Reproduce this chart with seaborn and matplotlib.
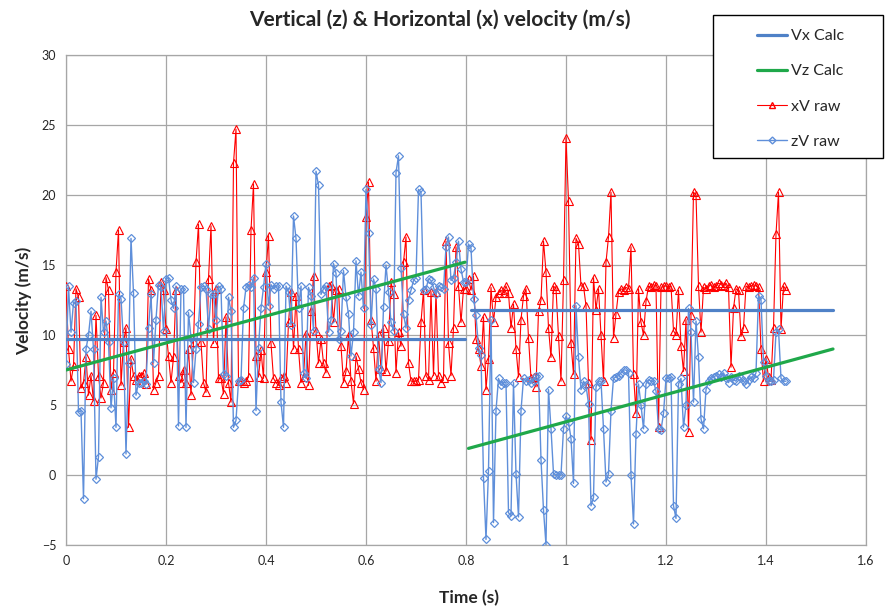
import numpy as np
import pandas as pd
import matplotlib
matplotlib.use("Agg")
import matplotlib.pyplot as plt
import seaborn as sns
from matplotlib.lines import Line2D
from matplotlib.patches import Rectangle

# raw samples, 5 ms apart, starting at t = 0
DT = 0.005

zv_raw = [
    7.9, 13.5, 10.2, 12.3, 12.4, 4.5, 4.6, -1.7, 9.0, 10.0,
    11.7, 9.0, -0.3, 1.3, 12.7, 10.2, 11.0, 9.5, 4.8, 6.9,
    3.4, 12.9, 12.6, 9.5, 1.5, 8.0, 16.9, 13.0, 5.7, 6.6,
    6.6, 6.7, 6.5, 10.5, 12.9, 8.0, 11.1, 13.6, 13.4, 10.3,
    14.0, 14.1, 12.5, 11.9, 13.5, 3.5, 13.3, 13.3, 3.4, 11.6,
    9.8, 6.6, 9.0, 10.8, 13.4, 13.5, 13.3, 10.4, 12.9, 12.9,
    11.1, 13.5, 13.3, 7.2, 7.1, 12.7, 11.7, 3.4, 3.9, 6.7,
    6.8, 11.9, 13.4, 13.6, 13.4, 14.1, 4.6, 9.1, 11.9, 13.4,
    15.1, 12.1, 13.6, 13.3, 13.5, 13.5, 5.2, 3.4, 13.5, 13.1,
    10.7, 18.5, 16.9, 11.9, 13.5, 7.3, 6.9, 13.4, 12.8, 10.3,
    21.7, 20.7, 12.9, 13.3, 13.5, 10.2, 11.1, 15.1, 14.4, 9.7,
    10.3, 14.6, 12.7, 11.5, 8.5, 10.2, 15.3, 12.8, 14.5, 11.9,
    20.4, 17.3, 10.7, 14.0, 13.3, 7.6, 6.6, 12.0, 15.0, 13.1,
    10.9, 10.3, 21.6, 22.8, 14.8, 11.5, 10.5, 12.5, 13.2, 13.9,
    14.1, 20.4, 20.2, 13.2, 13.3, 14.0, 13.9, 13.4, 12.9, 13.5,
    13.4, 13.3, 16.3, 17.0, 13.9, 14.1, 15.2, 16.7, 14.7, 13.8,
    13.8, 16.5, 16.2, 12.6, 11.4, 9.1, 8.6, -0.2, -4.6, 0.3,
    11.1, -3.4, 4.6, 6.9, 6.4, 6.6, 6.6, -2.7, -2.9, 6.6,
    0.1, -3.0, 4.6, 6.9, 6.7, 6.8, 6.6, 6.7, 7.1, 7.1,
    1.1, -2.5, -5.0, 6.1, 3.3, 0.1, 0.0, 0.0, 0.0, 3.3,
    4.2, 3.8, 2.6, -0.6, 12.1, 8.4, 6.1, 6.7, 6.4, 5.1,
    -2.2, -1.6, 6.3, 6.7, 6.7, 3.3, -0.5, 0.1, 4.6, 6.9,
    7.0, 7.1, 7.3, 7.5, 7.5, 7.3, 0.0, -3.5, 2.9, 6.5,
    5.0, 3.3, 6.5, 6.8, 6.7, 6.7, 6.0, 3.3, 3.2, 4.4,
    6.9, 6.9, 7.0, -2.2, -3.1, 6.5, 6.9, 3.4, 5.0, 11.9,
    10.2, 5.2, 11.0, 8.4, 4.0, 3.3, 6.1, 6.7, 6.9, 7.0,
    7.1, 7.2, 7.0, 7.3, 6.9, 6.6, 7.0, 6.8, 6.7, 7.1,
    6.9, 6.7, 6.5, 6.8, 7.0, 6.9, 7.3, 12.8, 12.5, 8.1,
    7.1, 6.7, 6.7, 6.8, 10.2, 10.4, 6.9, 6.7, 6.7,
]

xv_raw = [
    13.5, 9.0, 6.7, 7.8, 13.3, 12.7, 6.2, 6.6, 8.4, 5.7,
    7.1, 5.3, 11.4, 7.1, 5.5, 6.6, 14.1, 13.2, 6.1, 7.3,
    14.5, 17.5, 6.4, 9.5, 10.5, 3.4, 8.3, 7.1, 6.8, 7.1,
    7.1, 7.3, 6.5, 14.0, 13.2, 6.1, 6.6, 7.1, 13.8, 13.2,
    10.4, 8.5, 6.6, 8.4, 13.2, 7.1, 6.6, 7.5, 6.6, 9.0,
    5.7, 9.5, 15.2, 17.9, 9.5, 6.6, 5.9, 14.0, 17.8, 9.4,
    13.3, 6.9, 6.9, 5.8, 11.3, 6.6, 5.2, 22.3, 24.7, 6.7,
    6.7, 6.6, 6.7, 7.0, 17.5, 20.8, 8.5, 7.0, 8.9, 6.9,
    14.5, 17.1, 9.4, 6.9, 6.6, 6.4, 6.9, 7.1, 6.6, 10.9,
    13.1, 9.0, 12.8, 9.0, 6.6, 7.0, 10.1, 6.4, 11.7, 14.2,
    10.3, 8.0, 9.7, 8.0, 7.3, 13.5, 13.6, 10.9, 13.2, 13.3,
    9.2, 6.6, 7.4, 10.0, 6.7, 5.1, 8.5, 7.6, 6.6, 6.1,
    18.4, 20.9, 11.1, 9.1, 6.7, 10.0, 7.6, 10.5, 7.4, 9.6,
    13.8, 12.9, 7.3, 10.2, 9.2, 15.2, 17.0, 8.0, 6.7, 6.7,
    6.7, 6.8, 10.9, 13.2, 7.1, 6.8, 13.1, 7.1, 13.1, 7.1,
    6.6, 6.9, 16.7, 9.4, 7.1, 10.5, 16.3, 13.5, 10.9, 13.3,
    13.3, 14.0, 13.2, 14.2, 9.7, 9.0, 7.8, 11.3, 6.1, 8.3,
    13.4, 10.9, 12.7, 13.0, 13.2, 13.0, 13.5, 13.0, 10.5, 12.2,
    9.0, 7.0, 11.1, 12.8, 13.3, 9.8, 6.9, 7.0, 6.3, 11.7,
    12.5, 16.7, 14.5, 10.5, 8.4, 13.5, 13.3, 9.9, 6.7, 13.9,
    24.1, 19.6, 9.4, 7.2, 16.9, 16.5, 13.5, 13.5, 12.1, 6.6,
    2.5, 14.1, 11.8, 13.3, 10.0, 6.7, 15.2, 17.0, 20.2, 9.8,
    11.5, 13.1, 13.3, 13.2, 13.4, 13.3, 16.3, 7.2, 4.4, 13.3,
    10.9, 10.0, 12.4, 13.5, 13.4, 13.6, 13.5, 3.4, 13.4, 13.5,
    13.5, 13.4, 13.5, 10.3, 10.0, 13.2, 9.2, 7.4, 11.1, 3.1,
    11.4, 20.2, 20.0, 13.5, 10.2, 13.4, 13.3, 13.5, 13.6, 13.4,
    13.5, 13.7, 13.6, 13.5, 13.7, 13.4, 7.7, 11.9, 13.3, 13.2,
    9.9, 10.5, 13.5, 13.4, 13.5, 13.6, 13.5, 13.4, 9.0, 6.7,
    8.3, 7.0, 6.8, 10.5, 17.2, 20.2, 10.4, 13.5, 13.2,
]

# fitted lines, two segments each (before / after t = 0.8 s)
vx_calc_t = [0.0, 0.798, 0.81, 1.534]
vx_calc_v = [9.7, 9.7, 11.8, 11.8]
vz_calc_t = [0.0, 0.798, 0.805, 1.534]
vz_calc_v = [7.5, 15.2, 1.9, 9.0]
calc_seg = [0, 0, 1, 1]

x_ticks = [0, 0.2, 0.4, 0.6, 0.8, 1.0, 1.2, 1.4, 1.6]
x_tick_labels = ["0", "0.2", "0.4", "0.6", "0.8", "1", "1.2", "1.4", "1.6"]
y_ticks = [-5, 0, 5, 10, 15, 20, 25, 30]

VX_COLOR = "#4f81c7"
VZ_COLOR = "#1fa84a"
XV_COLOR = "#ff0000"
ZV_COLOR = "#5f8fda"
GRID = "#a6a6a6"

sns.set_style("white")
plt.rcParams["font.family"] = ["Lato", "DejaVu Sans"]

xv_df = pd.DataFrame({"t": np.arange(len(xv_raw)) * DT, "v": xv_raw})
zv_df = pd.DataFrame({"t": np.arange(len(zv_raw)) * DT, "v": zv_raw})
vx_df = pd.DataFrame({"t": vx_calc_t, "v": vx_calc_v, "seg": calc_seg})
vz_df = pd.DataFrame({"t": vz_calc_t, "v": vz_calc_v, "seg": calc_seg})

W, H = 886, 610
fig = plt.figure(figsize=(W / 100, H / 100), dpi=100)
ax = fig.add_axes([66 / W, 65 / H, 800 / W, 490 / H])

sns.lineplot(data=xv_df, x="t", y="v", ax=ax, estimator=None, sort=False,
             color=XV_COLOR, linewidth=0.8, marker="^", markersize=6,
             markerfacecolor="none", markeredgecolor=XV_COLOR,
             markeredgewidth=0.8, zorder=3)
sns.lineplot(data=zv_df, x="t", y="v", ax=ax, estimator=None, sort=False,
             color=ZV_COLOR, linewidth=1.0, marker="D", markersize=4,
             markerfacecolor="none", markeredgecolor=ZV_COLOR,
             markeredgewidth=0.9, zorder=4)
sns.lineplot(data=vx_df, x="t", y="v", units="seg", ax=ax, estimator=None,
             color=VX_COLOR, linewidth=2.3, zorder=5)
sns.lineplot(data=vz_df, x="t", y="v", units="seg", ax=ax, estimator=None,
             color=VZ_COLOR, linewidth=2.3, zorder=5)

ax.set_xlim(0, 1.6)
ax.set_ylim(-5, 30)
ax.set_xticks(x_ticks)
ax.set_xticklabels(x_tick_labels)
ax.set_yticks(y_ticks)
ax.set_xlabel("")
ax.set_ylabel("")
ax.grid(True, color=GRID, linewidth=0.9)
ax.set_axisbelow(True)
for side in ax.spines.values():
    side.set_color(GRID)
    side.set_linewidth(0.9)
ax.tick_params(axis="both", labelsize=9, length=4, color=GRID, pad=3)

fig.text(440 / W, 1 - 20 / H, "Vertical (z) & Horizontal (x) velocity (m/s)",
         ha="center", va="center", fontsize=15, fontweight="bold")
fig.text(24 / W, 1 - 301 / H, "Velocity (m/s)", rotation=90,
         ha="center", va="center", fontsize=12.5, fontweight="bold")
fig.text(469 / W, 1 - 598 / H, "Time (s)",
         ha="center", va="center", fontsize=12.5, fontweight="bold")

# legend box sits over the top right corner of the plot, as in the source
fig.add_artist(Rectangle((713 / W, 1 - 158 / H), 170 / W, 143 / H,
                         transform=fig.transFigure, facecolor="white",
                         edgecolor="black", linewidth=1.0, zorder=5))
handles = [
    Line2D([], [], color=VX_COLOR, linewidth=2.3),
    Line2D([], [], color=VZ_COLOR, linewidth=2.3),
    Line2D([], [], color=XV_COLOR, linewidth=0.8, marker="^", markersize=5,
           markerfacecolor="none", markeredgecolor=XV_COLOR),
    Line2D([], [], color=ZV_COLOR, linewidth=1.0, marker="D", markersize=3.5,
           markerfacecolor="none", markeredgecolor=ZV_COLOR),
]
labels = ["Vx Calc", "Vz Calc", "xV raw", "zV raw"]
leg = fig.legend(handles, labels, loc="upper left",
                 bbox_to_anchor=(757 / W, 1 - 29 / H),
                 frameon=False, fontsize=11.5, labelspacing=1.32,
                 handlelength=1.9, handletextpad=0.2, borderpad=0,
                 borderaxespad=0)
leg.set_zorder(6)

fig.savefig("out.png", dpi=100)
